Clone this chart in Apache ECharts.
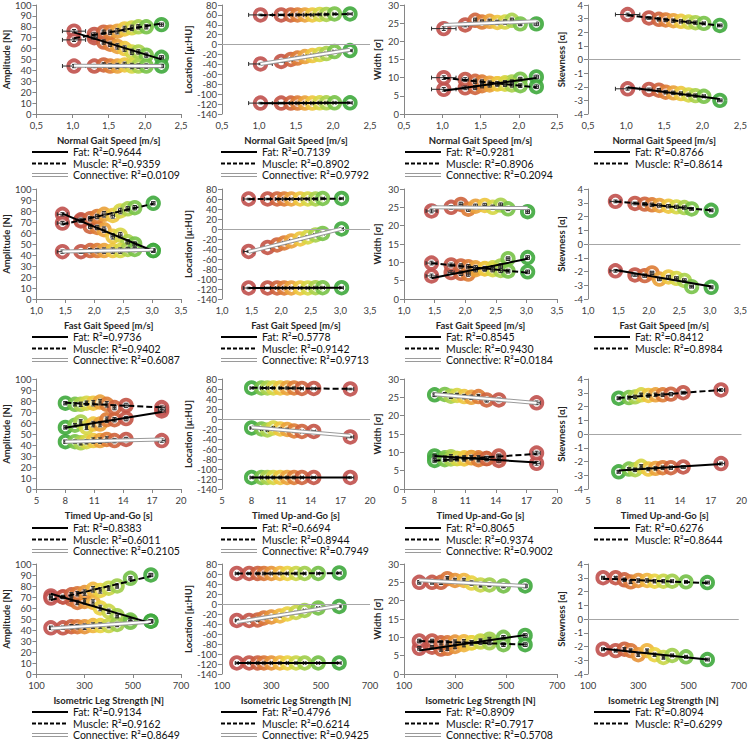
<!DOCTYPE html>
<html><head><meta charset="utf-8">
<script src="https://cdn.jsdelivr.net/npm/echarts@6/dist/echarts.min.js"></script>
<style>html,body{margin:0;padding:0;background:#fff}#c{width:750px;height:741px}</style>
</head><body><div id="c"></div>
<script>
// ---------- DATA ----------
// x values (group means) per row
const xNormal   = [1.02, 1.30, 1.43, 1.52, 1.62, 1.72, 1.82, 1.91, 2.02, 2.23];
const xFast     = [1.45, 1.77, 1.93, 2.05, 2.17, 2.32, 2.45, 2.58, 2.70, 3.02];
const xTug      = [8.0, 9.0, 9.6, 10.2, 10.9, 11.6, 12.3, 13.1, 14.3, 18.0];
const xStrength = [160, 210, 245, 270, 300, 335, 365, 400, 435, 490, 575];

// horizontal error bars per row
const xErrNormal   = [0.16, 0.04, 0.02, 0.02, 0.02, 0.02, 0.02, 0.02, 0.02, 0.03];
const xErrFast     = [0.09, 0.05, 0.03, 0.03, 0.03, 0.03, 0.03, 0.03, 0.03, 0.03];
const xErrTug      = [0.15, 0.1, 0.1, 0.1, 0.1, 0.1, 0.1, 0.15, 0.2, 0.35];
const xErrStrength = [6, 5, 4, 4, 4, 4, 4, 4, 5, 6, 8];

// vertical error bars per measure
const yErrAmp   = [1.5, 1.5, 2, 2, 2.5, 2.5, 2.5, 2, 2, 1.5, 1.5];
const yErrLoc   = [1.5, 1.5, 1.5, 1.5, 1.5, 1.5, 1.5, 1.5, 1.5, 1.5, 1.5];
const yErrWidth = [0.5, 0.5, 0.6, 0.6, 0.6, 0.6, 0.6, 0.6, 0.5, 0.5, 0.5];
const yErrSkew  = [0.1, 0.1, 0.12, 0.12, 0.12, 0.12, 0.12, 0.12, 0.1, 0.1, 0.1];

// Row 1: Normal gait speed
const ampFatNormal    = [76, 70, 66, 64, 62, 60, 57, 57, 54, 52];
const ampMuscleNormal = [68, 73, 75, 75, 76, 78, 79, 80, 80, 82];
const ampConnNormal   = [44, 44, 45, 44, 44, 45, 44, 44, 44, 44];
const locFatNormal    = [-118, -118, -118, -118, -118, -118, -117.5, -117.5, -117.5, -117.5];
const locMuscleNormal = [60, 60, 60, 60, 60, 60, 61, 61, 62, 62];
const locConnNormal   = [-39, -34, -30, -27, -24, -22, -20, -18, -14, -12];
const widthFatNormal    = [6.8, 7.2, 7.3, 7.8, 8.0, 8.3, 8.6, 8.8, 9.6, 10.2];
const widthMuscleNormal = [10.0, 9.5, 9.0, 8.8, 8.5, 8.3, 8.2, 8.0, 7.8, 7.5];
const widthConnNormal   = [23.5, 24.5, 25.8, 25.3, 25.5, 25.2, 25.3, 25.8, 24.8, 24.8];
const skewFatNormal    = [-2.15, -2.2, -2.25, -2.4, -2.45, -2.5, -2.6, -2.65, -2.7, -3.0];
const skewMuscleNormal = [3.3, 3.05, 2.95, 2.9, 2.85, 2.8, 2.75, 2.7, 2.65, 2.5];

// Row 2: Fast gait speed
const ampFatFast    = [77, 72, 66, 65, 63, 57, 58, 52, 50, 44];
const ampMuscleFast = [69, 71, 73, 75, 77, 76, 80, 82, 83, 87];
const ampConnFast   = [43, 43, 44, 44, 44, 44, 44, 45, 45, 44];
const locFatFast    = [-118, -118, -118, -118, -118, -118, -118, -117.5, -117.5, -117.5];
const locMuscleFast = [60, 60, 60, 60, 60, 60, 60, 60, 61, 61];
const locConnFast   = [-45, -37, -32, -28, -24, -20, -16, -12, -9, 0];
const widthFatFast    = [6.3, 7.2, 7.0, 6.8, 8.0, 8.2, 8.5, 9.0, 11.0, 11.3];
const widthMuscleFast = [9.8, 9.3, 9.0, 8.8, 8.5, 8.3, 8.0, 7.8, 7.6, 7.4];
const widthConnFast   = [24.0, 25.0, 25.8, 24.5, 25.3, 25.5, 25.0, 25.6, 24.6, 23.8];
const skewFatFast    = [-1.95, -2.25, -2.3, -2.1, -2.55, -2.4, -2.5, -2.65, -3.1, -3.15];
const skewMuscleFast = [3.1, 2.95, 2.9, 2.85, 2.8, 2.75, 2.7, 2.65, 2.55, 2.45];

// Row 3: Timed Up-and-Go
const ampFatTug    = [56, 58, 61, 56, 59, 59, 63, 63, 64, 71];
const ampMuscleTug = [78, 77, 77, 78, 78, 79, 77, 74, 76, 74];
const ampConnTug   = [43, 43, 42, 43, 44, 44, 45, 44, 45, 44];
const locFatTug    = [-117, -117, -117, -117, -117, -117, -117, -117, -117, -117];
const locMuscleTug = [62, 62, 62, 62, 62, 62, 62, 61, 61, 60];
const locConnTug   = [-18, -20, -22, -18, -20, -21, -24, -25, -25, -36];
const widthFatTug    = [9.0, 8.5, 8.8, 8.3, 8.5, 8.6, 8.5, 8.3, 7.8, 7.0];
const widthMuscleTug = [7.8, 8.0, 8.2, 8.3, 8.2, 8.5, 8.0, 8.3, 9.0, 9.8];
const widthConnTug   = [25.7, 25.8, 25.3, 25.5, 25.2, 25.0, 25.2, 24.3, 24.3, 23.5];
const skewFatTug    = [-2.75, -2.55, -2.6, -2.35, -2.55, -2.5, -2.45, -2.45, -2.4, -2.15];
const skewMuscleTug = [2.6, 2.65, 2.7, 2.85, 2.8, 2.85, 2.85, 2.9, 3.0, 3.2];

// Row 4: Isometric leg strength
const ampFatStr    = [71, 70, 68, 65, 66, 65, 60, 57, 53, 49, 48];
const ampMuscleStr = [69, 70, 72, 73, 74, 77, 76, 78, 80, 87, 90];
const ampConnStr   = [42, 42, 43, 43, 43, 44, 44, 44, 45, 47, 48];
const locFatStr    = [-118, -118, -118, -118, -118, -118, -118, -118, -118, -118, -118];
const locMuscleStr = [61, 61, 61, 61, 61, 61, 61, 61, 61, 61, 62];
const locConnStr   = [-33, -33, -32, -28, -26, -24, -20, -17, -13, -8, -5];
const widthFatStr    = [7.0, 7.3, 6.8, 7.0, 7.5, 8.0, 8.5, 9.0, 9.5, 10.0, 10.5];
const widthMuscleStr = [9.0, 9.0, 8.5, 8.5, 8.7, 8.8, 8.5, 8.7, 8.5, 8.0, 8.0];
const widthConnStr   = [25.0, 25.0, 25.0, 26.0, 25.5, 25.5, 24.8, 24.3, 24.3, 24.0, 24.0];
const skewFatStr    = [-2.2, -2.3, -2.2, -2.3, -2.6, -2.3, -2.6, -2.8, -2.65, -2.75, -2.95];
const skewMuscleStr = [3.0, 3.0, 2.85, 2.7, 2.8, 2.8, 2.75, 2.75, 2.75, 2.7, 2.65];

// R² legend values [Fat, Muscle, Connective] per panel
const r2Normal   = [["0.9644","0.9359","0.0109"],["0.7139","0.8902","0.9792"],["0.9281","0.8906","0.2094"],["0.8766","0.8614"]];
const r2Fast     = [["0.9736","0.9402","0.6087"],["0.5778","0.9142","0.9713"],["0.8545","0.9430","0.0184"],["0.8412","0.8984"]];
const r2Tug      = [["0.8383","0.6011","0.2105"],["0.6694","0.8944","0.7949"],["0.8065","0.9374","0.9002"],["0.6276","0.8644"]];
const r2Strength = [["0.9134","0.9162","0.8649"],["0.4796","0.6214","0.9425"],["0.8909","0.7917","0.5708"],["0.8094","0.6299"]];

const xTitles = ["Normal Gait Speed [m/s]", "Fast Gait Speed [m/s]", "Timed Up-and-Go [s]", "Isometric Leg Strength [N]"];
const yTitles = ["Amplitude [N]", "Location [\u00b5:HU]", "Width [\u03c3]", "Skewness [\u03b1]"];
const tissueNames = ["Fat", "Muscle", "Connective"];

// ---------- LAYOUT / STYLE ----------
const rows = [
  {x: xNormal, xe: xErrNormal, min: 0.5, max: 2.5, interval: 0.5, dec: 1, rev: false, top: 4, legY: 152,
   panels: [[ampFatNormal, ampMuscleNormal, ampConnNormal], [locFatNormal, locMuscleNormal, locConnNormal], [widthFatNormal, widthMuscleNormal, widthConnNormal], [skewFatNormal, skewMuscleNormal]], r2: r2Normal},
  {x: xFast, xe: xErrFast, min: 1.0, max: 3.5, interval: 0.5, dec: 1, rev: false, top: 189, legY: 337,
   panels: [[ampFatFast, ampMuscleFast, ampConnFast], [locFatFast, locMuscleFast, locConnFast], [widthFatFast, widthMuscleFast, widthConnFast], [skewFatFast, skewMuscleFast]], r2: r2Fast},
  {x: xTug, xe: xErrTug, min: 5, max: 20, interval: 3, dec: 0, rev: true, top: 379, legY: 528,
   panels: [[ampFatTug, ampMuscleTug, ampConnTug], [locFatTug, locMuscleTug, locConnTug], [widthFatTug, widthMuscleTug, widthConnTug], [skewFatTug, skewMuscleTug]], r2: r2Tug},
  {x: xStrength, xe: xErrStrength, min: 100, max: 700, interval: 200, dec: 0, rev: false, top: 564, legY: 712,
   panels: [[ampFatStr, ampMuscleStr, ampConnStr], [locFatStr, locMuscleStr, locConnStr], [widthFatStr, widthMuscleStr, widthConnStr], [skewFatStr, skewMuscleStr]], r2: r2Strength}
];
const cols = [
  {left: 32, width: 149, min: 0, max: 100, interval: 10, yErr: yErrAmp, zeroLine: false, legX: 32},
  {left: 222, width: 148, min: -140, max: 80, interval: 20, yErr: yErrLoc, zeroLine: true, legX: 221},
  {left: 404, width: 153, min: 0, max: 30, interval: 5, yErr: yErrWidth, zeroLine: false, legX: 405},
  {left: 588, width: 155, min: -4, max: 4, interval: 1, yErr: yErrSkew, zeroLine: true, legX: 594}
];
const GRID_H = 110;
const LEG_STEP = 11.5;
const FONT = 'Lato, "Liberation Sans", sans-serif';
const AXIS_COLOR = '#868686';
const LABEL_COLOR = '#404040';

const colorStops = [
  [0.00, [192, 80, 77]], [0.15, [196, 84, 66]], [0.33, [221, 122, 52]], [0.50, [240, 180, 60]],
  [0.62, [233, 216, 63]], [0.75, [181, 211, 74]], [0.88, [124, 196, 72]], [1.00, [62, 168, 60]]
];
function paletteColor(t) {
  for (let i = 1; i < colorStops.length; i++) {
    if (t <= colorStops[i][0]) {
      const a = colorStops[i - 1], b = colorStops[i];
      const f = (t - a[0]) / (b[0] - a[0]);
      const c = a[1].map((v, k) => Math.round(v + (b[1][k] - v) * f));
      return 'rgb(' + c.join(',') + ')';
    }
  }
  return 'rgb(62,168,60)';
}
function fitLine(xs, ys) {
  const n = xs.length;
  const mx = xs.reduce((s, v) => s + v, 0) / n, my = ys.reduce((s, v) => s + v, 0) / n;
  let sxy = 0, sxx = 0;
  for (let i = 0; i < n; i++) { sxy += (xs[i] - mx) * (ys[i] - my); sxx += (xs[i] - mx) ** 2; }
  const b = sxy / sxx, a = my - b * mx;
  const x0 = Math.min(...xs), x1 = Math.max(...xs);
  return [[x0, a + b * x0], [x1, a + b * x1]];
}
function errRender(params, api) {
  const x = api.value(0), y = api.value(1), ex = api.value(2), ey = api.value(3);
  const p = api.coord([x, y]);
  const l = api.coord([x - ex, y])[0], r = api.coord([x + ex, y])[0];
  const t = api.coord([x, y + ey])[1], b = api.coord([x, y - ey])[1];
  const st = {stroke: '#2b2b2b', lineWidth: 1};
  const cap = 2;
  return {type: 'group', children: [
    {type: 'line', shape: {x1: l, y1: p[1], x2: r, y2: p[1]}, style: st},
    {type: 'line', shape: {x1: l, y1: p[1] - cap, x2: l, y2: p[1] + cap}, style: st},
    {type: 'line', shape: {x1: r, y1: p[1] - cap, x2: r, y2: p[1] + cap}, style: st},
    {type: 'line', shape: {x1: p[0], y1: t, x2: p[0], y2: b}, style: st},
    {type: 'line', shape: {x1: p[0] - cap, y1: t, x2: p[0] + cap, y2: t}, style: st},
    {type: 'line', shape: {x1: p[0] - cap, y1: b, x2: p[0] + cap, y2: b}, style: st}
  ]};
}

const grid = [], xAxis = [], yAxis = [], series = [], graphic = [];
let gi = 0;
rows.forEach((row, ri) => {
  const n = row.x.length;
  const colors = row.x.map((_, i) => paletteColor(row.rev ? 1 - i / (n - 1) : i / (n - 1)));
  cols.forEach((col, ci) => {
    grid.push({left: col.left, top: row.top, width: col.width, height: GRID_H});
    xAxis.push({
      type: 'value', gridIndex: gi, min: row.min, max: row.max, interval: row.interval,
      name: xTitles[ri], nameLocation: 'middle', nameGap: 21,
      nameTextStyle: {fontFamily: FONT, fontWeight: 'bold', fontSize: 9.5, color: '#262626'},
      axisLine: {show: !col.zeroLine, onZero: false, lineStyle: {color: AXIS_COLOR}},
      axisTick: {show: !col.zeroLine, length: 4, lineStyle: {color: AXIS_COLOR}},
      axisLabel: {fontFamily: FONT, fontSize: 9.5, color: LABEL_COLOR, margin: 6,
        formatter: v => row.dec ? v.toFixed(row.dec).replace('.', ',') : String(v)},
      splitLine: {show: false}
    });
    yAxis.push({
      type: 'value', gridIndex: gi, min: col.min, max: col.max, interval: col.interval,
      name: yTitles[ci], nameLocation: 'middle', nameGap: 22,
      nameTextStyle: {fontFamily: FONT, fontWeight: 'bold', fontSize: 9.5, color: '#262626'},
      axisLine: {show: true, lineStyle: {color: AXIS_COLOR}},
      axisTick: {show: true, length: 4, lineStyle: {color: AXIS_COLOR}},
      axisLabel: {fontFamily: FONT, fontSize: 9.5, color: LABEL_COLOR, margin: 5},
      splitLine: {show: false}
    });
    const sets = row.panels[ci];
    // markers
    sets.forEach((ys, si) => {
      const s = {
        type: 'scatter', xAxisIndex: gi, yAxisIndex: gi, symbol: 'circle', symbolSize: 11.5, z: 2, silent: true,
        itemStyle: {color: 'rgba(255,255,255,0.65)', borderWidth: 3.8, opacity: 0.9},
        data: ys.map((y, i) => ({value: [row.x[i], y], itemStyle: {borderColor: colors[i]}}))
      };
      if (si === 0 && col.zeroLine) {
        s.markLine = {silent: true, symbol: 'none', label: {show: false}, animation: false,
          lineStyle: {color: '#a6a6a6', width: 1, type: 'solid'}, data: [{yAxis: 0}]};
      }
      series.push(s);
    });
    // error bars
    sets.forEach((ys) => {
      series.push({
        type: 'custom', xAxisIndex: gi, yAxisIndex: gi, z: 3, silent: true, renderItem: errRender,
        encode: {x: 0, y: 1},
        data: ys.map((y, i) => [row.x[i], y, row.xe[i], col.yErr[i]])
      });
    });
    // regression lines
    sets.forEach((ys, si) => {
      const seg = fitLine(row.x, ys);
      if (si === 2) {
        series.push({type: 'line', xAxisIndex: gi, yAxisIndex: gi, z: 4, silent: true, symbol: 'none', data: seg,
          lineStyle: {color: '#9a9a9a', width: 4}});
        series.push({type: 'line', xAxisIndex: gi, yAxisIndex: gi, z: 5, silent: true, symbol: 'none', data: seg,
          lineStyle: {color: '#ffffff', width: 2}});
      } else {
        series.push({type: 'line', xAxisIndex: gi, yAxisIndex: gi, z: 5, silent: true, symbol: 'none', data: seg,
          lineStyle: {color: '#000', width: 2, type: si === 1 ? [6, 3] : 'solid'}});
      }
    });
    // legend
    const r2 = row.r2[ci];
    r2.forEach((val, si) => {
      const y = row.legY + LEG_STEP * si;
      const L = col.legX;
      if (si === 2) {
        graphic.push({type: 'line', silent: true, shape: {x1: L, y1: y, x2: L + 36, y2: y}, style: {stroke: '#9a9a9a', lineWidth: 4}});
        graphic.push({type: 'line', silent: true, shape: {x1: L, y1: y, x2: L + 36, y2: y}, style: {stroke: '#fff', lineWidth: 2}});
      } else {
        graphic.push({type: 'line', silent: true, shape: {x1: L, y1: y, x2: L + 36, y2: y},
          style: {stroke: '#000', lineWidth: 2, lineDash: si === 1 ? [4, 2] : null}});
      }
      graphic.push({type: 'text', silent: true, x: L + 41, y: y,
        style: {text: tissueNames[si] + ': R\u00b2=' + val, fontFamily: FONT, fontSize: 10.5, fill: '#111', verticalAlign: 'middle'}});
    });
    gi++;
  });
});

const chart = echarts.init(document.getElementById('c'), null, {renderer: 'svg'});
chart.setOption({animation: false, backgroundColor: '#fff', grid, xAxis, yAxis, series, graphic});
</script></body></html>
